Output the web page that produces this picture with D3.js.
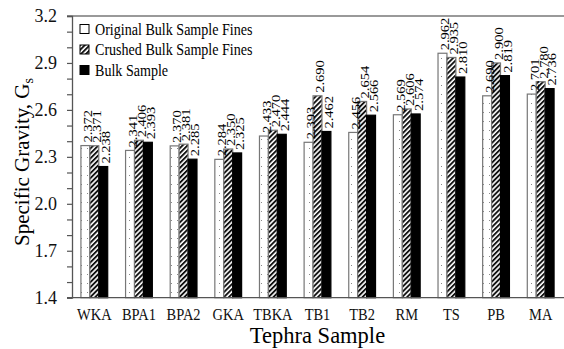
<!DOCTYPE html>
<html><head><meta charset="utf-8">
<script src="https://cdn.jsdelivr.net/npm/d3@7"></script>
<style>body{margin:0;background:#fff}svg{display:block}svg text{font-family:"Liberation Serif",Tinos,"Times New Roman",Times,serif !important}</style>
</head><body>
<svg id="c" width="564" height="349"></svg>
<script>
const categories = ["WKA","BPA1","BPA2","GKA","TBKA","TB1","TB2","RM","TS","PB","MA"];
const seriesNames = ["Original Bulk Sample Fines","Crushed Bulk Sample Fines","Bulk Sample"];
const original = [2.372,2.341,2.370,2.284,2.433,2.393,2.456,2.569,2.962,2.690,2.701];
const crushed  = [2.371,2.406,2.381,2.350,2.470,2.690,2.654,2.606,2.935,2.900,2.780];
const bulk     = [2.238,2.393,2.285,2.325,2.444,2.462,2.566,2.574,2.810,2.819,2.736];
const yTicks = [1.4,1.7,2.0,2.3,2.6,2.9,3.2];
const yMinor = [1.5,1.6,1.8,1.9,2.1,2.2,2.4,2.5,2.7,2.8,3.0,3.1];

const FONT = '"Liberation Serif", Tinos, "Times New Roman", Times, serif';
const svg = d3.select("#c");
const L=72, R=563, T=16, B=297.7;
const defs = svg.append("defs");
const dots = defs.append("pattern").attr("id","dots").attr("patternUnits","userSpaceOnUse").attr("width",6).attr("height",9);
dots.append("rect").attr("width",6).attr("height",9).attr("fill","#fff");
dots.append("rect").attr("x",3).attr("y",4).attr("width",1).attr("height",1).attr("fill","#888");
const hatch = defs.append("pattern").attr("id","hatch").attr("patternUnits","userSpaceOnUse").attr("width",3.5).attr("height",3.5).attr("patternTransform","rotate(45)");
hatch.append("rect").attr("width",3.5).attr("height",3.5).attr("fill","#fff");
hatch.append("rect").attr("width",1.9).attr("height",3.5).attr("fill","#111");

const x0 = d3.scaleBand().domain(categories).range([L,R]).paddingInner(0.4).paddingOuter(0.2);
const x1 = d3.scaleBand().domain(seriesNames).range([0,x0.bandwidth()]);
const y = d3.scaleLinear().domain([1.4,3.2]).range([B,T]);
const fills = ["url(#dots)","url(#hatch)","#000"];
const seriesVals = [original,crushed,bulk];

svg.append("line").attr("x1",67).attr("x2",564).attr("y1",T).attr("y2",T).attr("stroke","#777").attr("stroke-width",1.3);

const rows = [];
categories.forEach((c,i)=>seriesNames.forEach((s,j)=>rows.push({c,s,j,v:seriesVals[j][i]})));

const g = svg.append("g");
g.selectAll("rect.bar").data(rows).join("rect").attr("class","bar")
  .attr("x",d=>x0(d.c)+x1(d.s)).attr("width",x1.bandwidth())
  .attr("y",d=>y(d.v)).attr("height",d=>y(1.4)-y(d.v))
  .attr("fill",d=>fills[d.j]).attr("stroke",d=>d.j===2?"#000":"#777").attr("stroke-width",1.2);

g.selectAll("text.val").data(rows).join("text").attr("class","val")
  .attr("transform",d=>`translate(${x0(d.c)+x1(d.s)+x1.bandwidth()/2+2.5},${y(d.v)-3}) rotate(-90) scale(1,0.85)`)
  .attr("dy","0.35em").attr("font-size",14.5).attr("font-family",FONT).attr("fill","#000").text(d=>d.v.toFixed(3));

const yAxis = d3.axisLeft(y).tickValues(yTicks).tickFormat(d3.format(".1f")).tickSize(5).tickPadding(10);
const ya = svg.append("g").attr("transform",`translate(${L},0)`).call(yAxis).attr("font-family",FONT);
ya.select(".domain").attr("stroke","#555").attr("stroke-width",1.3);
ya.selectAll(".tick line").attr("stroke","#555").attr("stroke-width",1.2);
ya.selectAll(".tick text").attr("font-size",18).attr("fill","#111").attr("font-family",FONT);
const yMin = d3.axisLeft(y).tickValues(yMinor).tickFormat("").tickSize(5);
const ym = svg.append("g").attr("transform",`translate(${L},0)`).call(yMin);
ym.select(".domain").remove();
ym.selectAll(".tick line").attr("stroke","#555").attr("stroke-width",1.2);

const xAxis = d3.axisBottom(x0).tickSize(0).tickPadding(10);
const xa = svg.append("g").attr("transform",`translate(0,${B})`).call(xAxis).attr("font-family",FONT);
xa.select(".domain").remove();
svg.append("line").attr("x1",67).attr("x2",564).attr("y1",B).attr("y2",B).attr("stroke","#555").attr("stroke-width",1.3);
xa.selectAll(".tick text").attr("font-size",17).attr("fill","#111").attr("font-family",FONT).attr("transform","scale(0.85,1)");

svg.append("text").attr("x",(L+R)/2).attr("y",343).attr("text-anchor","middle").attr("font-size",22.5).attr("font-family",FONT).text("Tephra Sample");
const yt = svg.append("text").attr("transform","translate(29,162) rotate(-90)").attr("text-anchor","middle").attr("font-size",21).attr("font-family",FONT);
yt.append("tspan").text("Specific Gravity, G");
yt.append("tspan").attr("font-size",14).attr("dy",4).text("s");

const lg = svg.append("g");
seriesNames.forEach((s,j)=>{
  const yy = 29 + j*20.5;
  lg.append("rect").attr("x",80).attr("y",yy-4.5).attr("width",9).attr("height",9)
    .attr("fill",j===0?"#fff":fills[j]).attr("stroke","#000").attr("stroke-width",1);
  lg.append("text").attr("transform",`translate(95,${yy}) scale(0.88,1)`).attr("dy","0.35em").attr("font-size",16).attr("font-family",FONT).text(s);
});
</script>
</body></html>
